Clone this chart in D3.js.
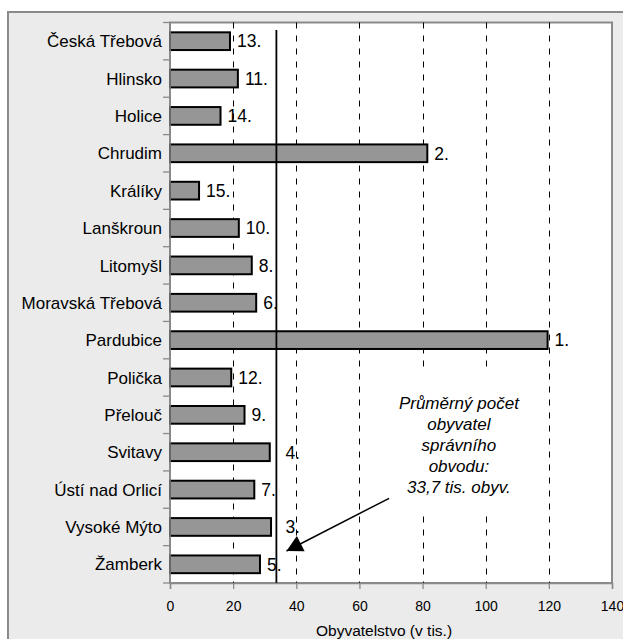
<!DOCTYPE html>
<html><head><meta charset="utf-8">
<script src="https://cdn.jsdelivr.net/npm/d3@7/dist/d3.min.js"></script>
<style>
html,body{margin:0;padding:0;background:#fff;}
svg{display:block;font-family:"Liberation Sans",Arial,sans-serif;}
</style></head>
<body>
<svg id="chart" width="623" height="639"></svg>
<script>
const categories = ["Česká Třebová","Hlinsko","Holice","Chrudim","Králíky","Lanškroun","Litomyšl","Moravská Třebová","Pardubice","Polička","Přelouč","Svitavy","Ústí nad Orlicí","Vysoké Mýto","Žamberk"];
const population = [19.0,21.5,16.0,81.5,9.2,21.8,25.9,27.3,119.6,19.4,23.6,31.6,26.7,32.0,28.5];
const ranks = ["13.","11.","14.","2.","15.","10.","8.","6.","1.","12.","9.","4.","7.","3.","5."];
const meanValue = 33.7;
const xTicks = [0,20,40,60,80,100,120,140];
const xTitle = "Obyvatelstvo (v tis.)";
const noteLines = ["Průměrný počet","obyvatel","správního","obvodu:","33,7 tis. obyv."];

const svg = d3.select("#chart");
const W = 623, H = 639;
const L = 170, R = 612, T = 22.5, B = 583;

// outer chart frame
svg.append("rect").attr("x",8).attr("y",12).attr("width",W).attr("height",H)
  .attr("fill","#ebebeb").attr("stroke","#8a8a8a").attr("stroke-width",2);

// plot area
svg.append("rect").attr("x",L).attr("y",T).attr("width",R-L).attr("height",B-T)
  .attr("fill","#fff").attr("stroke","#8a8a8a").attr("stroke-width",2);

const x = d3.scaleLinear().domain([0,140]).range([L,R]);
const y = d3.scaleBand().domain(categories).range([T,B]).paddingInner(0.526).paddingOuter(0.263);

// dashed gridlines
svg.append("g").selectAll("line").data(xTicks.filter(d=>d>0 && d<140)).join("line")
  .attr("x1",d=>Math.round(x(d))+0.5).attr("x2",d=>Math.round(x(d))+0.5)
  .attr("y1",T).attr("y2",B)
  .attr("stroke","#000").attr("stroke-width",1).attr("stroke-dasharray","6,7");

// bars
svg.append("g").selectAll("rect").data(categories).join("rect")
  .attr("x",x(0)).attr("y",d=>y(d))
  .attr("width",(d,i)=>x(population[i])-x(0))
  .attr("height",y.bandwidth())
  .attr("fill","#969696").attr("stroke","#000").attr("stroke-width",2);

// mean line
const mx = x(meanValue);
svg.append("line").attr("x1",mx).attr("x2",mx).attr("y1",30).attr("y2",B)
  .attr("stroke","#000").attr("stroke-width",1.8);

// x axis
const xAxis = svg.append("g").attr("transform",`translate(0,${B})`)
  .call(d3.axisBottom(x).tickValues(xTicks).tickSize(6).tickPadding(12).tickFormat(d3.format("d")));
xAxis.select(".domain").attr("stroke","#8a8a8a").attr("stroke-width",1.5);
xAxis.selectAll(".tick line").attr("stroke","#8a8a8a").attr("stroke-width",1.3);
xAxis.selectAll(".tick text").attr("fill","#000").attr("font-size","14px")
  .attr("font-family","'Liberation Sans',Arial,sans-serif");

// y axis line and boundary ticks
svg.append("line").attr("x1",L).attr("x2",L).attr("y1",T).attr("y2",B)
  .attr("stroke","#8a8a8a").attr("stroke-width",1.5);
const gap = (y.step()-y.bandwidth())/2;
const bounds = categories.map(c=>y(c)-gap).concat([y(categories[categories.length-1])+y.bandwidth()+gap]);
svg.append("g").selectAll("line").data(bounds).join("line")
  .attr("x1",L-7).attr("x2",L).attr("y1",d=>d).attr("y2",d=>d)
  .attr("stroke","#8a8a8a").attr("stroke-width",1.3);

// category labels
svg.append("g").selectAll("text").data(categories).join("text")
  .attr("x",L-8).attr("y",d=>y(d)+y.bandwidth()/2)
  .attr("text-anchor","end").attr("dy","0.36em")
  .attr("font-size","17px").attr("fill","#000").text(d=>d);

// rank labels
svg.append("g").selectAll("text").data(categories).join("text")
  .attr("x",(d,i)=>{
    const v = population[i];
    return (v > meanValue - 3 && v < meanValue) ? mx + 9 : x(v) + 7;
  })
  .attr("y",d=>y(d)+y.bandwidth()/2).attr("dy","0.36em")
  .attr("font-size","17.5px").attr("fill","#000").text((d,i)=>ranks[i]);

// annotation box (white, hides gridlines) and text
const noteX = x(91.5);
svg.append("rect").attr("x",x(63)).attr("y",370).attr("width",x(117)-x(63)).attr("height",142)
  .attr("fill","#fff");
svg.append("g").selectAll("text").data(noteLines).join("text")
  .attr("x",noteX).attr("y",(d,i)=>408.5+i*21)
  .attr("text-anchor","middle").attr("font-style","italic")
  .attr("font-size","17px").attr("fill","#000").text(d=>d);

// arrow
svg.append("defs").append("marker").attr("id","arr")
  .attr("markerUnits","userSpaceOnUse").attr("markerWidth",20).attr("markerHeight",20)
  .attr("viewBox","0 -10 18 20").attr("refX",16).attr("refY",0).attr("orient","auto")
  .append("path").attr("d","M0,-8.5L16,0L0,8.5Z").attr("fill","#000");
svg.append("line")
  .attr("x1",x(69.4)).attr("y1",y("Vysoké Mýto")-19.8)
  .attr("x2",x(36.9)).attr("y2",y("Žamberk")-4.5)
  .attr("stroke","#000").attr("stroke-width",1.5).attr("marker-end","url(#arr)");

// axis title
svg.append("text").attr("x",(L+R)/2-7).attr("y",636)
  .attr("text-anchor","middle").attr("font-size","15.5px").attr("fill","#000").text(xTitle);
</script>
</body></html>
